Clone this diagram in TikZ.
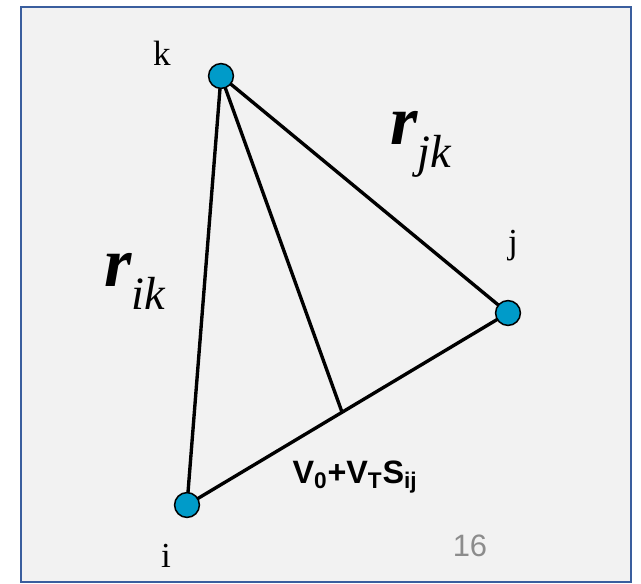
\documentclass[tikz,border=0pt]{standalone}
\usepackage{fontspec}
\setmainfont{Liberation Serif}
\newfontfamily\sansfont{Liberation Sans}
\usetikzlibrary{calc}
\definecolor{frameblue}{HTML}{3A5E9E}
\definecolor{panel}{HTML}{F2F2F2}
\definecolor{atomfill}{HTML}{009BC9}
\definecolor{pagegray}{HTML}{8C8C8C}
\tikzset{
  atom/.style={circle,draw=black,fill=atomfill,line width=1.1pt,minimum size=0.62cm,inner sep=0pt},
  bond/.style={line width=2.4pt,draw=black},
  vlabel/.style={font=\fontsize{25}{25}\selectfont},
  dlabel/.style={anchor=base west,inner sep=0pt}
}
\newcommand{\dist}[1]{{\fontsize{50}{50}\selectfont\bfseries\itshape r}\raisebox{-16pt}{\fontsize{33}{33}\selectfont\itshape #1}}
\begin{document}
\begin{tikzpicture}[x=0.025cm,y=-0.025cm]
  \useasboundingbox (0,0) rectangle (641,584);
  \fill[white] (0,0) rectangle (641,584);
  \draw[draw=frameblue,fill=panel,line width=1.5pt] (21,7) rectangle (631,582);
  % atom positions
  \coordinate (k) at (221,76);
  \coordinate (j) at (508,313);
  \coordinate (i) at (187,505);
  \coordinate (m) at ($(i)!0.483!(j)$);
  % bonds
  \draw[bond] (i) -- (k) -- (j) -- cycle;
  \draw[bond] (k) -- (m);
  \node[atom] (kv) at (k) {};
  \node[atom] (jv) at (j) {};
  \node[atom] (iv) at (i) {};
  % labels
  \node[vlabel] (kl) at (162,53) {k};
  \node[vlabel] (jl) at (513,246) {j};
  \node[vlabel] (il) at (166,556) {i};
  \node[dlabel] (rik) at (104,287) {\dist{ik}};
  \node[dlabel] (rjk) at (390,145) {\dist{jk}};
  \node[font=\sansfont\bfseries\fontsize{23}{23}\selectfont] (vl) at (355,477)
    {V\textsubscript{0}+V\textsubscript{T}S\textsubscript{ij}};
  \node[font=\sansfont\fontsize{22}{22}\selectfont,text=pagegray] (pg) at (470,546) {16};
\end{tikzpicture}
\end{document}
